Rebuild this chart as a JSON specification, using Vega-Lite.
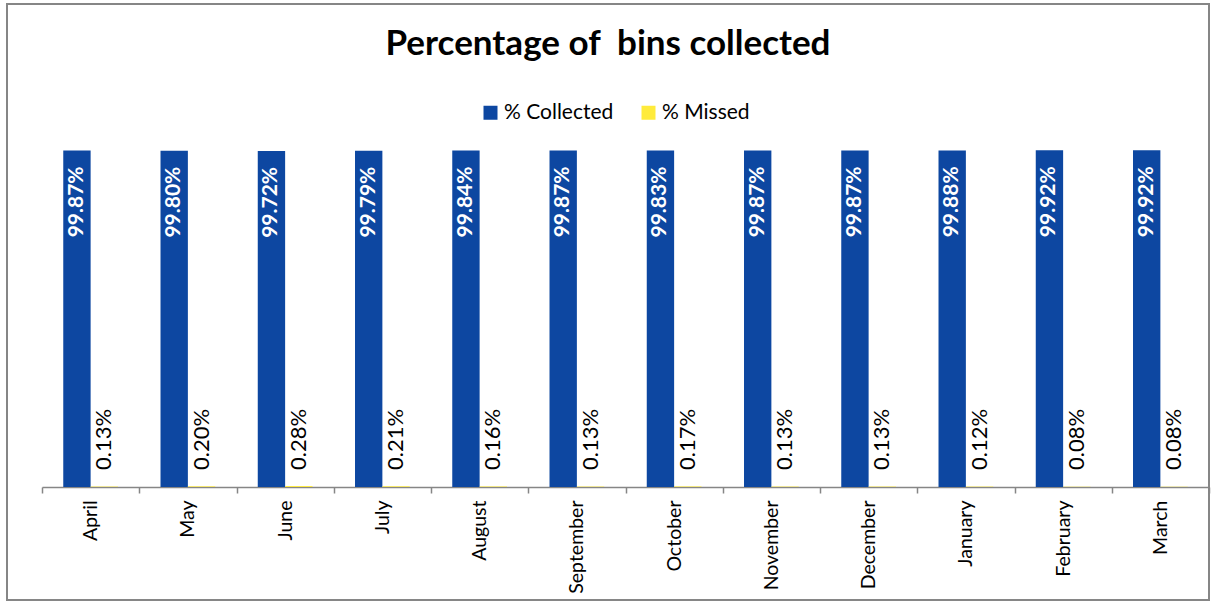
{
  "$schema": "https://vega.github.io/schema/vega-lite/v6.json",
  "autosize": "none",
  "padding": {"left": 7, "top": 4, "right": 5, "bottom": 4},
  "width": 1202,
  "height": 596,
  "background": "white",
  "title": {
    "text": "Percentage of \u00a0bins collected",
    "font": "Lato",
    "fontSize": 35,
    "fontWeight": "bold",
    "color": "black",
    "anchor": "middle",
    "frame": "group",
    "baseline": "alphabetic",
    "offset": 0,
    "dy": 86
  },
  "config": {
    "view": {"stroke": "#868686", "strokeWidth": 2},
    "font": "Lato"
  },
  "data": {
    "values": [
      {"month": "April", "series": "% Collected", "value": 0.9987},
      {"month": "May", "series": "% Collected", "value": 0.9980},
      {"month": "June", "series": "% Collected", "value": 0.9972},
      {"month": "July", "series": "% Collected", "value": 0.9979},
      {"month": "August", "series": "% Collected", "value": 0.9984},
      {"month": "September", "series": "% Collected", "value": 0.9987},
      {"month": "October", "series": "% Collected", "value": 0.9983},
      {"month": "November", "series": "% Collected", "value": 0.9987},
      {"month": "December", "series": "% Collected", "value": 0.9987},
      {"month": "January", "series": "% Collected", "value": 0.9988},
      {"month": "February", "series": "% Collected", "value": 0.9992},
      {"month": "March", "series": "% Collected", "value": 0.9992},
      {"month": "April", "series": "% Missed", "value": 0.0013},
      {"month": "May", "series": "% Missed", "value": 0.0020},
      {"month": "June", "series": "% Missed", "value": 0.0028},
      {"month": "July", "series": "% Missed", "value": 0.0021},
      {"month": "August", "series": "% Missed", "value": 0.0016},
      {"month": "September", "series": "% Missed", "value": 0.0013},
      {"month": "October", "series": "% Missed", "value": 0.0017},
      {"month": "November", "series": "% Missed", "value": 0.0013},
      {"month": "December", "series": "% Missed", "value": 0.0013},
      {"month": "January", "series": "% Missed", "value": 0.0012},
      {"month": "February", "series": "% Missed", "value": 0.0008},
      {"month": "March", "series": "% Missed", "value": 0.0008}
    ]
  },
  "encoding": {
    "x": {
      "field": "month",
      "type": "nominal",
      "sort": null,
      "scale": {"range": [35, 1202], "paddingInner": 0, "paddingOuter": 0},
      "axis": {
        "title": null,
        "offset": -113,
        "domainColor": "#868686",
        "domainWidth": 1.5,
        "tickColor": "#868686",
        "tickWidth": 1.5,
        "tickSize": 6,
        "tickBand": "extent",
        "labelAngle": -90,
        "labelAlign": "right",
        "labelBaseline": "middle",
        "labelPadding": 7,
        "labelFont": "Lato",
        "labelFontSize": 19.5,
        "labelColor": "black"
      }
    },
    "xOffset": {
      "field": "series",
      "type": "nominal",
      "scale": {"domain": ["% Collected", "% Missed"], "paddingInner": 0, "paddingOuter": 0.777}
    },
    "y": {
      "field": "value",
      "type": "quantitative",
      "scale": {"domain": [-0.3353, 1.4332], "nice": false, "zero": false},
      "axis": null
    }
  },
  "layer": [
    {
      "mark": {"type": "bar"},
      "encoding": {
        "y2": {"datum": 0},
        "color": {
          "field": "series",
          "type": "nominal",
          "scale": {"domain": ["% Collected", "% Missed"], "range": ["#0D47A1", "#FFEB3B"]},
          "legend": {
            "title": null,
            "orient": "none",
            "legendX": 473,
            "legendY": 98,
            "direction": "horizontal",
            "padding": 0,
            "symbolType": "square",
            "symbolSize": 196,
            "symbolStrokeWidth": 0,
            "labelFont": "Lato",
            "labelFontSize": 21,
            "labelColor": "black",
            "labelOffset": 3,
            "columnPadding": 24
          }
        }
      }
    },
    {
      "transform": [{"filter": "datum.series === '% Collected'"}],
      "mark": {
        "type": "text",
        "angle": 270,
        "align": "right",
        "baseline": "middle",
        "dx": -16,
        "font": "Lato",
        "fontSize": 21,
        "fontWeight": "bold",
        "color": "white"
      },
      "encoding": {
        "text": {"field": "value", "type": "quantitative", "format": ".2%"}
      }
    },
    {
      "transform": [{"filter": "datum.series === '% Missed'"}],
      "mark": {
        "type": "text",
        "angle": 270,
        "align": "left",
        "baseline": "middle",
        "dx": 17,
        "font": "Lato",
        "fontSize": 22,
        "color": "black"
      },
      "encoding": {
        "y": {"datum": 0},
        "text": {"field": "value", "type": "quantitative", "format": ".2%"}
      }
    }
  ]
}
